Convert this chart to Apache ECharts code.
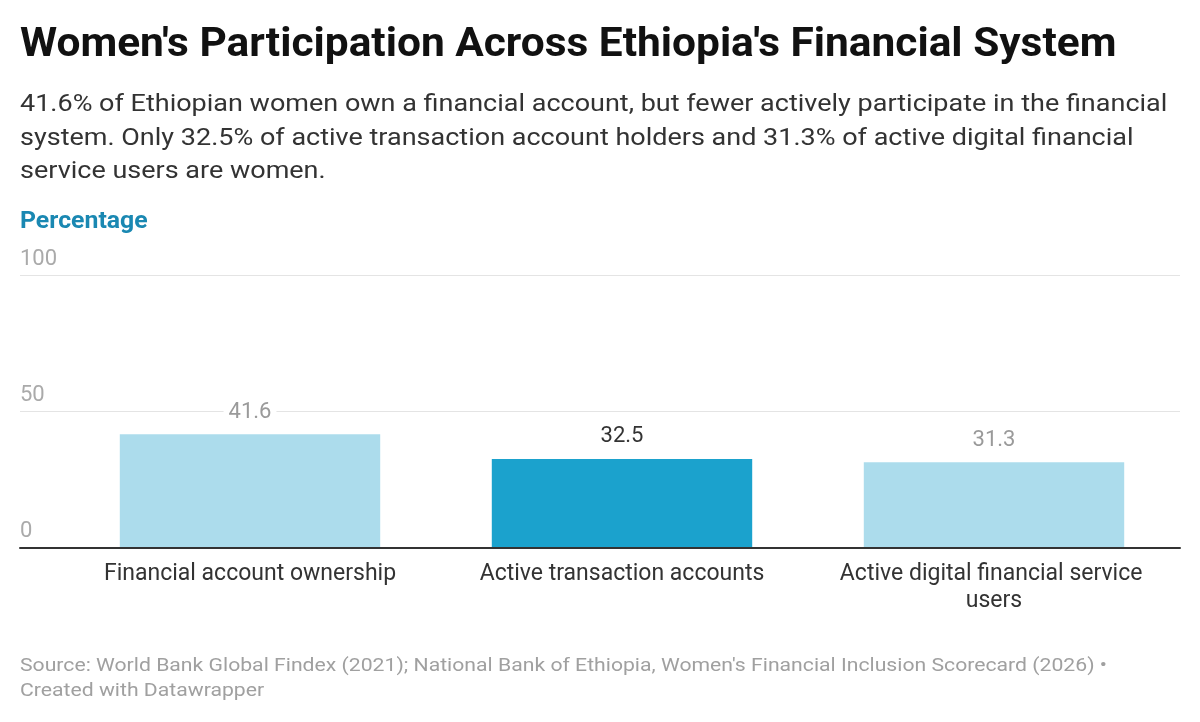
<!DOCTYPE html>
<html>
<head>
<meta charset="utf-8">
<script src="https://cdn.jsdelivr.net/npm/echarts@6/dist/echarts.min.js"></script>
<style>
html,body{margin:0;padding:0;background:#fff;}
#chart{width:1200px;height:722px;}
</style>
</head>
<body>
<div id="chart"></div>
<script>
const categories = ["Financial account ownership", "Active transaction accounts", "Active digital financial service users"];
const values = [41.6, 32.5, 31.3];
const highlighted = [false, true, false];
const yTicks = [0, 50, 100];

const titleText = "Women's Participation Across Ethiopia's Financial System";
const subtitleLines = [
  "41.6% of Ethiopian women own a financial account, but fewer actively participate in the financial",
  "system. Only 32.5% of active transaction account holders and 31.3% of active digital financial",
  "service users are women."
];
const axisTitle = "Percentage";
const footerLines = [
  "Source: World Bank Global Findex (2021); National Bank of Ethiopia, Women's Financial Inclusion Scorecard (2026) •",
  "Created with Datawrapper"
];

const FONT = "Roboto";
const GRID_TOP = 275, GRID_BOTTOM = 174.5;

function txt(text, x, y, font, fill, sx) {
  return {
    type: 'text', x: x, y: y, scaleX: sx, originX: 0, originY: 0, silent: true,
    style: { text: text, font: font, fill: fill, textAlign: 'left', textVerticalAlign: 'middle', verticalAlign: 'middle' }
  };
}

const graphics = [];
graphics.push(txt(titleText, 20, 45.5, "bold 41px Roboto", "#111111", 1.035));
subtitleLines.forEach(function (l, i) {
  graphics.push(txt(l, 20, 105 + i * 33.5, "24.5px Roboto", "#333333", 1.102));
});
graphics.push(txt(axisTitle, 20, 222.5, "bold 23.5px Roboto", "#1a88b2", 1.057));
footerLines.forEach(function (l, i) {
  graphics.push(txt(l, 20, 666.5 + i * 25, "18px Roboto", "#a0a0a0", 1.177));
});

const chart = echarts.init(document.getElementById('chart'));
chart.setOption({
  backgroundColor: '#ffffff',
  animation: false,
  textStyle: { fontFamily: FONT },
  graphic: graphics,
  grid: [
    { left: 20, right: 20, top: GRID_TOP, bottom: GRID_BOTTOM, containLabel: false },
    { left: 64, right: 20, top: GRID_TOP, bottom: GRID_BOTTOM, containLabel: false }
  ],
  xAxis: [
    {
      gridIndex: 0, type: 'value', min: 0, max: 1, z: 5,
      axisLine: { show: true, onZero: false, lineStyle: { color: '#333333', width: 2 } },
      axisTick: { show: false }, axisLabel: { show: false }, splitLine: { show: false }
    },
    {
      gridIndex: 1, type: 'category', data: categories,
      axisLine: { show: false }, axisTick: { show: false },
      axisLabel: {
        fontFamily: FONT, fontSize: 23, color: '#333333', margin: 13,
        width: 330, overflow: 'break', lineHeight: 27, interval: 0
      }
    }
  ],
  yAxis: [
    {
      gridIndex: 0, type: 'value', min: 0, max: 100, interval: 50,
      axisLine: { show: false }, axisTick: { show: false },
      splitLine: { show: true, lineStyle: { color: '#e4e4e4', width: 1 } },
      axisLabel: {
        inside: true, margin: 0, fontFamily: FONT, fontSize: 22, color: '#aaaaaa',
        verticalAlign: 'bottom', lineHeight: 22, padding: [0, 0, 5, 0],
        formatter: function (v) { return yTicks.indexOf(v) >= 0 ? String(v) : ''; }
      }
    },
    {
      gridIndex: 1, type: 'value', min: 0, max: 100, interval: 50, show: false,
      splitLine: { show: false }
    }
  ],
  series: [{
    type: 'bar',
    xAxisIndex: 1, yAxisIndex: 1,
    barCategoryGap: '30%',
    data: values.map(function (v, i) {
      return {
        value: v,
        itemStyle: { color: highlighted[i] ? '#1ba2cd' : '#acdcec' },
        label: { color: highlighted[i] ? '#333333' : '#9a9a9a' }
      };
    }),
    label: {
      show: true, position: 'top', distance: 11,
      fontFamily: FONT, fontSize: 22, lineHeight: 22,
      backgroundColor: '#ffffff', padding: [0, 5],
      formatter: function (p) { return p.value.toFixed(1); }
    }
  }]
});
</script>
</body>
</html>
